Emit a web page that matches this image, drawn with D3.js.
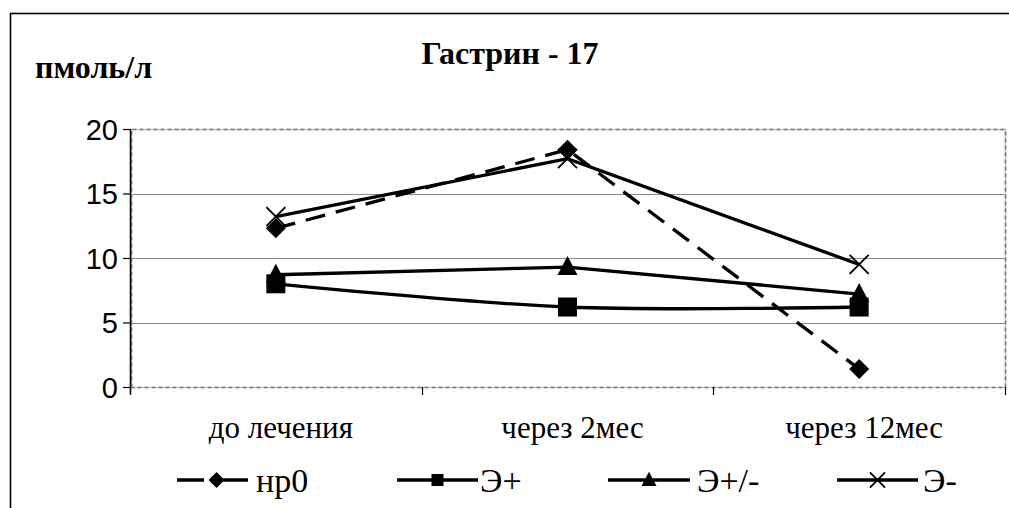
<!DOCTYPE html>
<html>
<head>
<meta charset="utf-8">
<script src="https://cdn.jsdelivr.net/npm/d3@7"></script>
<style>
  html, body { margin: 0; padding: 0; background: #fff; }
  svg { display: block; }
</style>
</head>
<body>
<svg id="chart" width="1009" height="508"></svg>
<script>
// Gastrin-17 levels by group over the course of treatment
const categories = ["до лечения", "через 2мес", "через 12мес"];
const seriesNames = ["нр0", "Э+", "Э+/-", "Э-"];
const hp0 = [12.3, 18.4, 1.4];
const ePlus = [8.0, 6.2, 6.2];
const ePlusMinus = [8.7, 9.3, 7.2];
const eMinus = [13.2, 17.7, 9.5];
const yTicks = [0, 5, 10, 15, 20];
const title = "Гастрин - 17";
const unitLabel = "пмоль/л";

const seriesValues = [hp0, ePlus, ePlusMinus, eMinus];
const markerTypes = ["diamond", "square", "triangle", "cross"];
const dashed = [true, false, false, false];
const smoothed = [false, true, false, false];

const svg = d3.select("#chart");
const serif = "'Liberation Serif', 'Times New Roman', serif";
const sans = "'Liberation Sans', Arial, sans-serif";

const plot = { left: 130, right: 1005, top: 129, bottom: 387 };

// Outer chart frame (continues past the right and bottom edges)
svg.append("rect")
  .attr("x", 10.5).attr("y", 13.5)
  .attr("width", 1100).attr("height", 600)
  .attr("fill", "none").attr("stroke", "#000").attr("stroke-width", 1.6);

const x = d3.scaleBand().domain(categories).range([plot.left, plot.right]);
const y = d3.scaleLinear().domain([0, 20]).range([plot.bottom, plot.top]);
const cx = d => x(d) + x.bandwidth() / 2;

// Horizontal gridlines
svg.append("g").selectAll("line")
  .data(yTicks.filter(t => t > 0 && t < 20))
  .join("line")
  .attr("x1", plot.left).attr("x2", plot.right)
  .attr("y1", d => Math.round(y(d)) + 0.5).attr("y2", d => Math.round(y(d)) + 0.5)
  .attr("stroke", "#8a8a8a").attr("stroke-width", 1);

// Plot-area border: light base line with darker dashes
const border = svg.append("g");
const bx0 = plot.left + 1.5, bx1 = plot.right + 0.5, by0 = plot.top + 0.5, by1 = plot.bottom + 0.5;
const borderPath = `M${bx0},${by1}V${by0}H${bx1}V${by1}H${bx0}`;
border.append("path").attr("d", borderPath)
  .attr("fill", "none").attr("stroke", "#c8c8c8").attr("stroke-width", 1.5);
border.append("path").attr("d", borderPath)
  .attr("fill", "none").attr("stroke", "#7a7a7a").attr("stroke-width", 1.6)
  .attr("stroke-dasharray", "4,3");

// Y axis
const yAxis = svg.append("g")
  .attr("transform", `translate(${plot.left},0)`)
  .call(d3.axisLeft(y).tickValues(yTicks).tickSize(7).tickPadding(5));
yAxis.select(".domain").attr("stroke", "#000").attr("stroke-width", 1.5)
  .attr("d", `M0.5,${plot.top}V${plot.bottom + 7}`);
yAxis.selectAll(".tick line").attr("stroke", "#000").attr("stroke-width", 1.2);
yAxis.selectAll(".tick text")
  .attr("font-family", sans).attr("font-size", 29).attr("fill", "#000")
  .attr("dy", "0.36em");

// X axis: tick marks at category boundaries, labels centred below
const boundaries = categories.map(c => x(c)).concat([plot.right]);
svg.append("g").selectAll("line")
  .data(boundaries)
  .join("line")
  .attr("x1", d => Math.round(d) + 0.5).attr("x2", d => Math.round(d) + 0.5)
  .attr("y1", plot.bottom).attr("y2", plot.bottom + 8)
  .attr("stroke", "#000").attr("stroke-width", 1.2);

svg.append("g").selectAll("text")
  .data(categories)
  .join("text")
  .attr("x", d => cx(d) + 5).attr("y", 438)
  .attr("text-anchor", "middle")
  .attr("font-family", serif).attr("font-size", 31).attr("fill", "#000")
  .text(d => d);

// Title and unit label
svg.append("text")
  .attr("x", 510).attr("y", 64)
  .attr("text-anchor", "middle")
  .attr("font-family", serif).attr("font-weight", "bold").attr("font-size", 32)
  .text(title);
svg.append("text")
  .attr("x", 35).attr("y", 78)
  .attr("font-family", serif).attr("font-weight", "bold").attr("font-size", 32)
  .text(unitLabel);

// Marker shapes
function drawMarker(g, type, px, py, s) {
  const h = s / 2;
  if (type === "diamond") {
    g.append("path").attr("d", `M${px},${py - h}L${px + h},${py}L${px},${py + h}L${px - h},${py}Z`)
      .attr("fill", "#000");
  } else if (type === "square") {
    g.append("rect").attr("x", px - h).attr("y", py - h)
      .attr("width", s).attr("height", s).attr("fill", "#000");
  } else if (type === "triangle") {
    g.append("path").attr("d", `M${px},${py - h * 1.1}L${px + h},${py + h * 0.8}L${px - h},${py + h * 0.8}Z`)
      .attr("fill", "#000");
  } else {
    const c = h * 0.95;
    g.append("path").attr("d", `M${px - c},${py - c}L${px + c},${py + c}M${px - c},${py + c}L${px + c},${py - c}`)
      .attr("stroke", "#000").attr("stroke-width", 1.8).attr("fill", "none");
  }
}

// Series lines and markers
const straightLine = d3.line()
  .x((d, i) => cx(categories[i]))
  .y(d => y(d));
const smoothLine = d3.line()
  .x((d, i) => cx(categories[i]))
  .y(d => y(d))
  .curve(d3.curveCardinal.tension(0));

const markerSize = [20, 19, 20, 20];
const seriesG = svg.append("g");
seriesValues.forEach((vals, si) => {
  const g = seriesG.append("g");
  g.append("path").datum(vals)
    .attr("d", smoothed[si] ? smoothLine : straightLine)
    .attr("fill", "none").attr("stroke", "#000").attr("stroke-width", 3.3)
    .attr("stroke-dasharray", dashed[si] ? "20,11" : null);
  vals.forEach((v, i) => drawMarker(g, markerTypes[si], cx(categories[i]), y(v), markerSize[si]));
});

// Legend
const legendLineX = [[177, 248], [397, 478], [608, 690], [837, 918]];
const legendTextX = [256, 480, 697, 923];
const legendMarkerSize = [16, 12, 15, 16];
const legendY = 480;
const legend = svg.append("g");
seriesNames.forEach((name, si) => {
  const g = legend.append("g");
  const [x0, x1] = legendLineX[si];
  g.append("line")
    .attr("x1", x0).attr("x2", x1).attr("y1", legendY).attr("y2", legendY)
    .attr("stroke", "#000").attr("stroke-width", 3.3)
    .attr("stroke-dasharray", dashed[si] ? "27,10,60" : null);
  drawMarker(g, markerTypes[si], (x0 + x1) / 2 + (si === 0 ? 4 : 0), legendY, legendMarkerSize[si]);
  g.append("text")
    .attr("x", legendTextX[si]).attr("y", 492)
    .attr("font-family", serif).attr("font-size", 34).attr("fill", "#000")
    .text(name);
});
</script>
</body>
</html>
